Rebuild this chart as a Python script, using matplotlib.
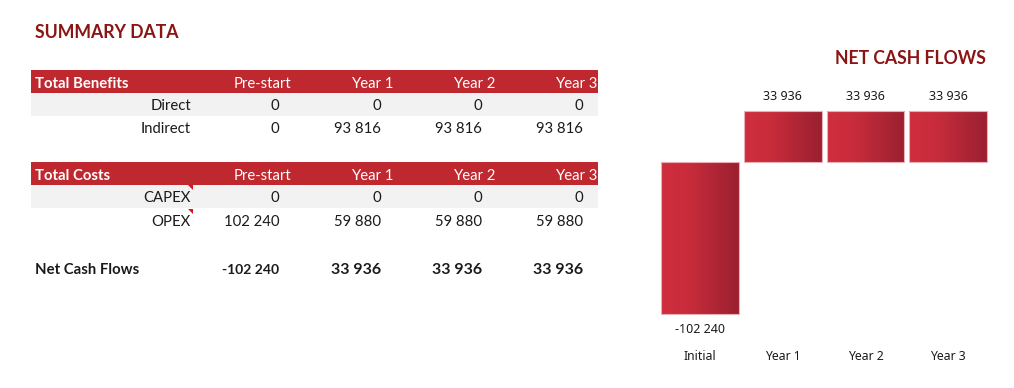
import matplotlib
matplotlib.use("Agg")
import matplotlib.pyplot as plt
import numpy as np
from matplotlib.patches import Rectangle, Polygon
from matplotlib.colors import LinearSegmentedColormap

# ---------------- data ----------------
periods = ["Pre-start", "Year 1", "Year 2", "Year 3"]
benefit_rows = ["Direct", "Indirect"]
direct = [0, 0, 0, 0]
indirect = [0, 93816, 93816, 93816]
cost_rows = ["CAPEX", "OPEX"]
capex = [0, 0, 0, 0]
opex = [102240, 59880, 59880, 59880]
net_cash = [-102240, 33936, 33936, 33936]
chart_cats = ["Initial", "Year 1", "Year 2", "Year 3"]

# ---------------- style ----------------
RED = "#c0282f"
DARK_RED = "#8b1414"
GRAY = "#f2f2f2"
TXT = "#1a1a1a"
FONT = ["Lato", "DejaVu Sans"]
CFONT = ["Noto Sans", "DejaVu Sans"]
FS = 10.7
DY = 2  # text baseline nudge


def fmt(v):
    return f"{v:,.0f}".replace(",", " ")


fig = plt.figure(figsize=(10.14, 3.88), dpi=100)
bg = fig.add_axes([0, 0, 1, 1])
bg.set_xlim(0, 1014)
bg.set_ylim(388, 0)
bg.axis("off")

# title
bg.text(35, 33, "SUMMARY DATA", color=DARK_RED, fontsize=12.7, fontweight="bold",
        family=FONT, va="center", ha="left")

col_x = [279, 381, 482, 583]
head_x = [291, 393, 495, 597]
TL, TR = 31, 598


def header(y0, y1, title):
    bg.add_patch(Rectangle((TL, y0), TR - TL, y1 - y0, color=RED, lw=0))
    yc = (y0 + y1) / 2 + DY
    bg.text(35, yc, title, color="white", fontsize=FS, fontweight="bold",
            family=FONT, va="center", ha="left")
    for x, p in zip(head_x, periods):
        bg.text(x, yc, p, color="white", fontsize=FS, family=FONT,
                va="center", ha="right")


def row(yc, label, vals, band=False, mark=False):
    if band:
        bg.add_patch(Rectangle((TL, yc - 11.5), TR - TL, 23, color=GRAY, lw=0))
    if mark:
        bg.add_patch(Polygon([[188, yc - 11.5], [193, yc - 11.5], [193, yc - 6.5]],
                             closed=True, color="#e0101a", lw=0))
    bg.text(191, yc + DY, label, color=TXT, fontsize=FS, family=FONT,
            va="center", ha="right")
    for x, v in zip(col_x, vals):
        bg.text(x, yc + DY, fmt(v), color=TXT, fontsize=FS, family=FONT,
                va="center", ha="right")


header(70, 93, "Total Benefits")
row(104.5, benefit_rows[0], direct, band=True)
row(127, benefit_rows[1], indirect)

header(162, 185, "Total Costs")
row(196.5, cost_rows[0], capex, band=True, mark=True)
row(220, cost_rows[1], opex, mark=True)

bg.text(35, 268 + DY, "Net Cash Flows", color=TXT, fontsize=FS, fontweight="bold",
        family=FONT, va="center", ha="left")
for i, (x, v) in enumerate(zip(col_x, net_cash)):
    bg.text(x, 268 + DY, fmt(v), color=TXT, fontsize=10 if i == 0 else 11.5,
            fontweight="bold", family=FONT, va="center", ha="right")

# ---------------- chart ----------------
bg.text(986, 59, "NET CASH FLOWS", color=DARK_RED, fontsize=12.7,
        fontweight="bold", family=FONT, va="center", ha="right")

L, R, T, B = 658.7, 989.5, 102.4, 340.8
ax = fig.add_axes([L / 1014, 1 - B / 388, (R - L) / 1014, (B - T) / 388])
ax.axis("off")

xs = np.arange(len(chart_cats))
bars = ax.bar(xs, net_cash, width=0.94, facecolor="none",
              edgecolor="#e8b0b6", linewidth=0.8, zorder=3)

cmap = LinearSegmentedColormap.from_list(
    "g", [(0, "#d02e3f"), (0.35, "#c82c3b"), (1, "#9a2030")])
grad = np.linspace(0, 1, 256).reshape(1, -1)
for b in bars:
    x0, w = b.get_x(), b.get_width()
    y0, h = b.get_y(), b.get_height()
    im = ax.imshow(grad, cmap=cmap, aspect="auto",
                   extent=[x0, x0 + w, min(y0, y0 + h), max(y0, y0 + h)],
                   zorder=2, interpolation="bilinear")
    im.set_clip_path(b)

ax.set_xlim(-0.5, len(chart_cats) - 0.5)
ax.set_ylim(-120000, 40000)

for x, v in zip(xs, net_cash):
    if v >= 0:
        ax.annotate(fmt(v), (x, v), xytext=(0, 8), textcoords="offset pixels",
                    ha="center", va="bottom", fontsize=9, family=CFONT, color=TXT)
    else:
        ax.annotate(fmt(v), (x, v), xytext=(0, -9), textcoords="offset pixels",
                    ha="center", va="top", fontsize=9, family=CFONT, color=TXT)

for x, c in zip(xs, chart_cats):
    ax.annotate(c, (x, 0), xycoords=("data", "axes fraction"),
                xytext=(0, -16), textcoords="offset pixels",
                ha="center", va="center", fontsize=8.8, family=CFONT, color=TXT)

fig.savefig("out.png", dpi=100)
